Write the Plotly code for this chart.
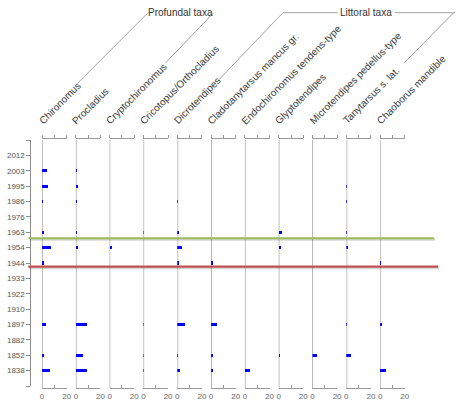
import plotly.graph_objects as go

W, H = 456, 407

years = ["2012", "2003", "1995", "1986", "1976", "1963", "1954", "1944",
         "1933", "1922", "1910", "1897", "1882", "1852", "1838"]

taxa = ["Chironomus", "Procladius", "Cryptochironomus", "Cricotopus/Orthocladius",
        "Dicrotendipes", "Cladotanytarsus mancus gr.", "Endochironomus tendens-type",
        "Glyptotendipes", "Microtendipes pedellus-type", "Tanytarsus s. lat.",
        "Chaoborus mandible"]

# abundance (%) per sample, same order as years
chironomus      = [0, 4.0, 4.8, 0.4, 0, 1.6, 7.2, 1.5, 0, 0, 0, 2.9, 0, 1.8, 6.9]
procladius      = [0, 0.6, 2.0, 0.4, 0, 0.5, 2.0, 0, 0, 0, 0, 9.0, 0, 5.6, 9.0]
cryptochironomus = [0, 0, 0, 0, 0, 0, 1.5, 0, 0, 0, 0, 0, 0, 0, 0]
cricotopus      = [0, 0, 0, 0, 0, 0.4, 0, 0, 0, 0, 0, 0.4, 0, 0.4, 0.4]
dicrotendipes   = [0, 0, 0, 0.5, 0, 2.0, 4.0, 2.0, 0, 0, 0, 6.4, 0, 0.8, 2.7]
cladotanytarsus = [0, 0, 0, 0, 0, 0, 0, 1.6, 0, 0, 0, 4.8, 0, 1.6, 1.6]
endochironomus  = [0, 0, 0, 0, 0, 0, 0, 0, 0, 0, 0, 0, 0, 0, 4.0]
glyptotendipes  = [0, 0, 0, 0, 0, 2.4, 1.0, 0, 0, 0, 0, 0, 0, 0.4, 0]
microtendipes   = [0, 0, 0, 0, 0, 0, 0, 0, 0, 0, 0, 0, 0, 4.0, 0]
tanytarsus      = [0, 0, 0.6, 0.6, 0, 0.5, 1.3, 0, 0, 0, 0, 0.8, 0, 3.7, 0]
chaoborus       = [0, 0, 0, 0, 0, 0, 0, 0.3, 0, 0, 0, 2.0, 0, 0, 4.8]

series = [chironomus, procladius, cryptochironomus, cricotopus, dicrotendipes,
          cladotanytarsus, endochironomus, glyptotendipes, microtendipes,
          tanytarsus, chaoborus]

x_tick_vals = [0, 10, 20]
x_tick_text = ["0", "", "20"]

# zone boundaries (sample-index units)
green_zone = 6.39
red_zone = 8.24

# styling
line_colors = ["#b0b0b0", "#b0b0b0", "#7a7a7a", "#a8a8a8", "#c0c0c0", "#8a8a8a",
               "#9a9a9a", "#b0b0b0", "#6e6e6e", "#c0c0c0", "#c0c0c0"]
line_widths = [1.6, 1.6, 1.0, 1.3, 2.0, 1.2, 1.3, 1.6, 1.0, 2.0, 2.0]
FONT = "Liberation Sans, Arial, sans-serif"


def px(x):
    return x / W


def py(y):
    return 1 - y / H


first_base = 40.7
step = 34.33
panel_w = 25.0
y_top, y_bot = 140.0, 386.0
x_axis_y = 388.3
top_axis_y = 138.3

fig = go.Figure()
layout = dict(
    width=W, height=H, margin=dict(l=0, r=0, t=0, b=0),
    paper_bgcolor="white", plot_bgcolor="white", showlegend=False,
    font=dict(family=FONT, color="#333"),
    bargap=0,
)

shapes = []
annotations = []
positions = list(range(1, len(years) + 1))

for i, (name, vals) in enumerate(zip(taxa, series)):
    b = first_base + i * step
    xid = "x" if i == 0 else f"x{i + 1}"
    xkey = "xaxis" if i == 0 else f"xaxis{i + 1}"
    tid = f"x{i + 12}"
    tkey = f"xaxis{i + 12}"
    ys = [p for p, v in zip(positions, vals) if v > 0]
    xs = [v for v in vals if v > 0]
    fig.add_trace(go.Bar(x=xs, y=ys, orientation="h", width=0.2,
                         marker=dict(color="#0000ff", line=dict(width=0)),
                         xaxis=xid, yaxis="y", name=name, hoverinfo="x+y"))
    fig.add_trace(go.Bar(x=[], y=[], orientation="h", xaxis=tid, yaxis="y",
                         showlegend=False, hoverinfo="skip"))
    layout[xkey] = dict(
        domain=[px(b), px(b + panel_w)], range=[0, 20], anchor="free",
        position=py(x_axis_y), showline=True, linecolor="#9a9a9a", linewidth=1,
        ticks="inside", ticklen=3, tickcolor="#9a9a9a", tickwidth=1,
        tickvals=x_tick_vals, ticktext=x_tick_text, showgrid=False, zeroline=False,
        tickfont=dict(size=8, color="#666", family=FONT), fixedrange=True,
    )
    layout[tkey] = dict(
        overlaying=xid, side="top", range=[0, 20], anchor="free",
        position=py(top_axis_y), showline=True, linecolor="#9a9a9a", linewidth=1,
        ticks="outside", ticklen=3, tickcolor="#9a9a9a", tickwidth=1,
        tickvals=x_tick_vals, showticklabels=False, showgrid=False, zeroline=False,
        fixedrange=True,
    )
    shapes.append(dict(type="line", xref=xid, yref="paper", x0=0, x1=0,
                       y0=py(y_top), y1=py(x_axis_y),
                       line=dict(color=line_colors[i], width=line_widths[i]),
                       layer="below"))
    annotations.append(dict(text=name, xref="paper", yref="paper",
                            x=px(b - 8.5), y=py(129), xanchor="left", yanchor="bottom",
                            textangle=-45, showarrow=False,
                            font=dict(size=10, color="#3a3a3a", family=FONT)))

layout["yaxis"] = dict(
    domain=[py(y_bot), py(y_top)], range=[len(years) + 1, 0], anchor="free",
    position=px(28.3), showline=True, linecolor="#8a8a8a", linewidth=1,
    ticks="outside", ticklen=3.5, tickcolor="#8a8a8a",
    tickvals=list(range(0, len(years) + 2)), ticktext=[""] + years + [""],
    tickfont=dict(size=8, color="#555", family=FONT),
    showgrid=False, zeroline=False, fixedrange=True,
)

# zone lines with soft shadow
for yv, col, x0, x1 in [(green_zone, "#9bbb59", 27.0, 439.0),
                        (red_zone, "#c0504d", 26.7, 443.0)]:
    shapes.append(dict(type="line", xref="paper", yref="y", x0=px(x0 + 1), x1=px(x1 + 1),
                       y0=yv + 0.1, y1=yv + 0.1,
                       line=dict(color="rgba(0,0,0,0.16)", width=2)))
    shapes.append(dict(type="line", xref="paper", yref="y", x0=px(x0), x1=px(x1),
                       y0=yv, y1=yv, line=dict(color=col, width=2.2)))

# group brackets
lc = dict(color="#8a8a8a", width=0.8)
for (xa, ya, xb, yb) in [(76.7, 83.3, 148.3, 12.7),
                         (215.0, 12.7, 165.7, 63.3),
                         (220.0, 80.0, 285.3, 12.7),
                         (285.3, 12.7, 341.0, 12.7),
                         (399.0, 12.7, 460.0, 12.7),
                         (408.7, 62.7, 458.7, 12.7)]:
    shapes.append(dict(type="line", xref="paper", yref="paper",
                       x0=px(xa), y0=py(ya), x1=px(xb), y1=py(yb), line=lc))

annotations.append(dict(text="Profundal taxa", xref="paper", yref="paper",
                        x=px(181.5), y=py(12.7), xanchor="center", yanchor="middle",
                        showarrow=False, font=dict(size=10, color="#333", family=FONT)))
annotations.append(dict(text="Littoral taxa", xref="paper", yref="paper",
                        x=px(370.0), y=py(12.7), xanchor="center", yanchor="middle",
                        showarrow=False, font=dict(size=10, color="#333", family=FONT)))

layout["shapes"] = shapes
layout["annotations"] = annotations
fig.update_layout(**layout)
fig.write_html("out.html", config={"displayModeBar": False},
               post_script="document.body.style.margin='0';document.body.style.overflow='hidden';")
